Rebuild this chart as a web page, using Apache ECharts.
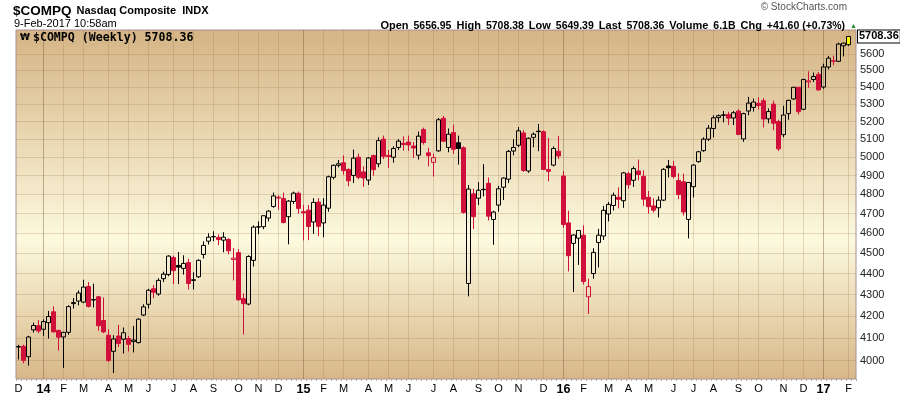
<!DOCTYPE html>
<html><head><meta charset="utf-8">
<script src="https://cdn.jsdelivr.net/npm/echarts@6/dist/echarts.min.js"></script>
<style>html,body{margin:0;padding:0;background:#fff}#c{width:900px;height:396px}</style>
</head><body><div id="c"></div>
<script>
// ---- data (weekly candles, week starting Monday) ----
const weeks = [
'2013-12-02','2013-12-09','2013-12-16','2013-12-23','2013-12-30',
'2014-01-06','2014-01-13','2014-01-20','2014-01-27','2014-02-03','2014-02-10','2014-02-17','2014-02-24',
'2014-03-03','2014-03-10','2014-03-17','2014-03-24','2014-03-31','2014-04-07','2014-04-14','2014-04-21','2014-04-28',
'2014-05-05','2014-05-12','2014-05-19','2014-05-26','2014-06-02','2014-06-09','2014-06-16','2014-06-23','2014-06-30',
'2014-07-07','2014-07-14','2014-07-21','2014-07-28','2014-08-04','2014-08-11','2014-08-18','2014-08-25',
'2014-09-01','2014-09-08','2014-09-15','2014-09-22','2014-09-29','2014-10-06','2014-10-13','2014-10-20','2014-10-27',
'2014-11-03','2014-11-10','2014-11-17','2014-11-24','2014-12-01','2014-12-08','2014-12-15','2014-12-22','2014-12-29',
'2015-01-05','2015-01-12','2015-01-19','2015-01-26','2015-02-02','2015-02-09','2015-02-16','2015-02-23',
'2015-03-02','2015-03-09','2015-03-16','2015-03-23','2015-03-30','2015-04-06','2015-04-13','2015-04-20','2015-04-27',
'2015-05-04','2015-05-11','2015-05-18','2015-05-25','2015-06-01','2015-06-08','2015-06-15','2015-06-22','2015-06-29',
'2015-07-06','2015-07-13','2015-07-20','2015-07-27','2015-08-03','2015-08-10','2015-08-17','2015-08-24','2015-08-31',
'2015-09-07','2015-09-14','2015-09-21','2015-09-28','2015-10-05','2015-10-12','2015-10-19','2015-10-26',
'2015-11-02','2015-11-09','2015-11-16','2015-11-23','2015-11-30','2015-12-07','2015-12-14','2015-12-21','2015-12-28',
'2016-01-04','2016-01-11','2016-01-18','2016-01-25','2016-02-01','2016-02-08','2016-02-15','2016-02-22','2016-02-29',
'2016-03-07','2016-03-14','2016-03-21','2016-03-28','2016-04-04','2016-04-11','2016-04-18','2016-04-25',
'2016-05-02','2016-05-09','2016-05-16','2016-05-23','2016-05-30','2016-06-06','2016-06-13','2016-06-20','2016-06-27',
'2016-07-04','2016-07-11','2016-07-18','2016-07-25','2016-08-01','2016-08-08','2016-08-15','2016-08-22','2016-08-29',
'2016-09-05','2016-09-12','2016-09-19','2016-09-26','2016-10-03','2016-10-10','2016-10-17','2016-10-24','2016-10-31',
'2016-11-07','2016-11-14','2016-11-21','2016-11-28','2016-12-05','2016-12-12','2016-12-19','2016-12-26',
'2017-01-02','2017-01-09','2017-01-16','2017-01-23','2017-01-30','2017-02-06'
];
const open = [
4060,4063,4017,4137,4156,4140,4170,4220,4135,4105,4126,4258,4270,4265,4339,4275,4290,4180,4113,4041,
4109,4095,4098,4085,4080,4205,4255,4328,4303,4376,4396,4479,4440,4426,4454,4368,4385,4494,4560,4582,
4579,4565,4568,4469,4503,4281,4256,4465,4631,4633,4677,4737,4785,4779,4684,4763,4806,4710,4718,4657,
4760,4652,4728,4891,4956,4970,4933,4901,5000,4920,4876,5009,4964,5100,5010,5000,5054,5077,5084,5062,
5011,5154,5024,4972,5035,5218,5054,5137,5080,5052,4353,4803,4780,4825,4859,4670,4744,4838,4881,5034,
5066,5135,4925,5110,5145,5142,4933,4957,5033,4898,4652,4549,4575,4590,4290,4401,4553,4586,4698,4742,
4785,4767,4910,4875,4925,4896,4785,4740,4730,4770,4952,4950,4874,4867,4670,4841,4976,5036,5100,5160,
5222,5235,5240,5220,5260,5101,5260,5281,5305,5320,5215,5300,5200,5125,5245,5330,5399,5270,5430,5445,
5476,5400,5520,5558,5555,5650,5656.95
];
const high = [
4070,4070,4110,4170,4182,4185,4224,4245,4137,4128,4250,4285,4320,4371,4360,4352,4294,4287,4140,4113,
4160,4148,4110,4155,4190,4255,4328,4346,4378,4410,4490,4488,4506,4490,4473,4407,4470,4559,4600,4610,
4594,4605,4575,4526,4520,4306,4490,4640,4660,4690,4717,4810,4795,4810,4770,4815,4815,4745,4745,4780,
4780,4780,4900,4960,4985,5010,4940,5042,5020,4950,5000,5015,5110,5120,5040,5060,5100,5116,5120,5084,
5143,5165,5052,5020,5220,5232,5160,5181,5120,5060,4850,4830,4865,4962,4890,4715,4845,4890,5040,5100,
5168,5150,5110,5138,5186,5150,5106,5060,5118,4925,4715,4595,4615,4640,4376,4525,4622,4740,4760,4810,
4837,4920,4920,4950,4987,4929,4818,4780,4790,4940,4985,4980,4913,4911,4865,4962,5035,5110,5180,5235,
5240,5260,5255,5260,5270,5250,5342,5333,5339,5335,5275,5320,5210,5290,5325,5400,5400,5450,5494,5487,
5490,5540,5588,5590,5670,5670,5708.38
];
const low = [
4005,3988,3978,4125,4122,4110,4098,4125,4044,3968,4115,4235,4250,4260,4240,4240,4133,4122,3994,3946,
4060,4031,4040,4036,4075,4200,4235,4284,4295,4360,4388,4350,4350,4396,4325,4325,4380,4474,4543,4560,
4540,4505,4495,4368,4270,4116,4250,4435,4595,4620,4660,4730,4720,4650,4544,4750,4700,4564,4565,4597,
4585,4580,4710,4880,4945,4905,4843,4860,4880,4840,4850,4900,4945,4990,4942,4970,5040,5036,5035,4996,
4987,5070,4950,4895,5030,5085,5027,5018,4960,4700,4292,4621,4745,4790,4665,4542,4710,4771,4860,5010,
5055,4920,4915,5055,5033,4930,4870,4950,4990,4626,4411,4313,4443,4348,4210,4376,4430,4566,4660,4716,
4727,4730,4830,4840,4875,4741,4700,4706,4680,4765,4890,4885,4775,4690,4574,4784,4970,5030,5090,5110,
5195,5195,5180,5180,5125,5085,5236,5257,5269,5166,5190,5150,5034,5110,5210,5325,5240,5265,5395,5430,
5380,5390,5506,5531,5550,5585,5649.39
];
const close = [
4062,4001,4105,4157,4132,4175,4198,4128,4104,4126,4244,4263,4308,4336,4245,4277,4156,4128,4000,4096,
4076,4124,4072,4091,4186,4243,4321,4311,4368,4398,4486,4415,4432,4450,4353,4371,4465,4539,4580,4583,
4568,4580,4512,4476,4276,4258,4484,4631,4633,4689,4713,4792,4781,4654,4765,4807,4727,4704,4634,4758,
4635,4744,4894,4956,4964,4927,4872,4995,4891,4887,4996,4932,5092,5005,5004,5048,5089,5070,5068,5051,
5117,5081,5009,4998,5210,5089,5128,5044,5048,4706,4828,4684,4822,4827,4687,4708,4830,4887,5032,5054,
5147,4928,5105,5128,5142,4933,4923,5048,5007,4644,4488,4591,4614,4363,4338,4504,4590,4717,4748,4796,
4774,4915,4851,4938,4906,4775,4736,4718,4770,4934,4943,4895,4800,4708,4863,4957,5030,5100,5162,5221,
5233,5238,5219,5250,5126,5245,5306,5312,5292,5214,5257,5190,5046,5237,5322,5399,5256,5445,5437,5463,
5383,5521,5574,5555,5661,5666.76,5708.36
];
const yTicks = [4000,4100,4200,4300,4400,4500,4600,4700,4800,4900,5000,5100,5200,5300,5400,5500,5600];
const monthLetters = ['J','F','M','A','M','J','J','A','S','O','N','D'];
const ticker = '$COMPQ';
const tickerName = 'Nasdaq Composite';
const exchange = 'INDX';
const stamp = '9-Feb-2017 10:58am';
const volumeText = '6.1B';

// ---- helpers ----
const RED = '#d0103a';
const last = close.length - 1;
const cats = weeks.concat(['']);
function isMonthStart(i){
  if (i >= weeks.length) return false;
  if (i === 0) return true;
  return weeks[i].slice(5,7) !== weeks[i-1].slice(5,7);
}
function isYearStart(i){
  return i > 0 && i < weeks.length && weeks[i].slice(0,4) !== weeks[i-1].slice(0,4);
}
function styleFor(i){
  const prev = i > 0 ? close[i-1] : open[i];
  const col = close[i] >= prev ? '#000000' : RED;
  const hollow = close[i] >= open[i];
  const fill = i === last ? '#ffff00' : (hollow ? 'rgba(0,0,0,0)' : col);
  return {color: fill, color0: fill, borderColor: col, borderColor0: col, borderWidth: 1};
}
const candleData = close.map((c,i)=>({value:[open[i], c, low[i], high[i]], itemStyle: styleFor(i)}));

const chg = close[last] - close[last-1];
const pct = chg / close[last-1] * 100;
const FONT = 'Liberation Sans, Arial, sans-serif';

const chart = echarts.init(document.getElementById('c'), null, {renderer:'canvas'});
chart.setOption({
  animation: false,
  backgroundColor: '#ffffff',
  title: [
    {left: 13, top: 2, padding: 0,
     text: '{a|' + ticker + '} {b|' + tickerName + '  ' + exchange + '}',
     textStyle: {rich: {
       a: {fontFamily: FONT, fontSize: 13.5, fontWeight: 'bold', color: '#000'},
       b: {fontFamily: FONT, fontSize: 11, color: '#000'}
     }}},
    {left: 14, top: 18, padding: 0, text: stamp,
     textStyle: {fontFamily: FONT, fontSize: 11, fontWeight: 'normal', color: '#000'}},
    {right: 53, top: 2, padding: 0, text: '\u00a9 StockCharts.com',
     textStyle: {fontFamily: FONT, fontSize: 10, fontWeight: 'normal', color: '#555'}},
    {right: 43, top: 17, padding: 0,
     text: '{k|Open} {v|' + open[last].toFixed(2) + '} {k|High} {v|' + high[last].toFixed(2) +
           '} {k|Low} {v|' + low[last].toFixed(2) + '} {k|Last} {v|' + close[last].toFixed(2) +
           '} {k|Volume} {v|' + volumeText + '} {k|Chg} {v|' + (chg>=0?'+':'') + chg.toFixed(2) +
           ' (' + (pct>=0?'+':'') + pct.toFixed(2) + '%)} {g|\u25B2}',
     textStyle: {rich: {
       k: {fontFamily: FONT, fontSize: 11, fontWeight: 'bold', color: '#000'},
       v: {fontFamily: FONT, fontSize: 10.5, color: '#000'},
       g: {fontFamily: FONT, fontSize: 7, color: '#2a8a2a'}
     }}},
    {left: 20, top: 32, padding: 0,
     text: '{i|\u20A9}{t|' + ticker + ' (Weekly) ' + close[last].toFixed(2) + '}',
     textStyle: {rich: {
       i: {fontFamily: 'DejaVu Sans', fontSize: 9, fontWeight: 'bold', color: '#000', padding: [0,3,0,0]},
       t: {fontFamily: 'DejaVu Sans Mono', fontSize: 11.6, color: '#000'}
     }}}
  ],
  grid: {
    left: 16, right: 44, top: 30, bottom: 16, show: true,
    borderColor: '#a89090', borderWidth: 1,
    backgroundColor: new echarts.graphic.LinearGradient(0, 0, 0, 1, [
      {offset: 0, color: '#d5b485'},
      {offset: 0.6, color: '#fcf9de'},
      {offset: 1, color: '#d7b788'}
    ])
  },
  xAxis: [
    {type: 'category', data: cats, boundaryGap: true,
     axisLine: {show: false},
     axisTick: {show: true, interval: 0, length: 2, lineStyle: {color: '#b8a8a8'}},
     axisLabel: {
       interval: (i) => isMonthStart(i), margin: 4, hideOverlap: false,
       fontFamily: FONT, fontSize: 11, color: '#000',
       formatter: (v, i) => isYearStart(i) ? '{y|' + v.slice(2,4) + '}' : monthLetters[parseInt(v.slice(5,7),10)-1],
       rich: {y: {fontFamily: FONT, fontSize: 12.5, fontWeight: 'bold', color: '#000'}}
     },
     splitLine: {show: true, alignWithLabel: true,
       interval: (i) => isMonthStart(i) && !isYearStart(i) && i > 0,
       lineStyle: {color: 'rgba(160,115,70,0.25)', width: 1}}
    },
    {type: 'category', data: cats, boundaryGap: true, position: 'bottom',
     axisLine: {show: false}, axisTick: {show: false}, axisLabel: {show: false},
     splitLine: {show: true, alignWithLabel: true, interval: (i) => isYearStart(i),
       lineStyle: {color: 'rgba(120,85,50,0.42)', width: 1}}
    }
  ],
  yAxis: {
    type: 'log', logBase: 10, min: 3920, max: 5749, position: 'right', scale: true,
    axisLine: {show: false},
    axisTick: {show: false, customValues: yTicks},
    axisLabel: {customValues: yTicks, margin: 4, fontFamily: FONT, fontSize: 11, color: '#222',
      formatter: (v) => String(Math.round(v))},
    splitLine: {show: true, lineStyle: {color: 'rgba(160,115,70,0.25)', width: 1}}
  },
  series: [{
    type: 'candlestick', xAxisIndex: 0, yAxisIndex: 0, barWidth: 3.6, clip: false,
    data: candleData, z: 3,
    markLine: {
      silent: true, symbol: 'none', animation: false, z: 10,
      data: [{yAxis: close[last]}],
      lineStyle: {color: 'rgba(0,0,0,0)', width: 1, type: 'solid'},
      label: {show: true, position: 'end', distance: 2, formatter: () => close[last].toFixed(2),
        fontFamily: FONT, fontSize: 11, fontWeight: 'bold', color: '#000',
        backgroundColor: '#fff', borderColor: '#000', borderWidth: 1, padding: [1, 1, 0, 1]}
    }
  }]
});
</script></body></html>
